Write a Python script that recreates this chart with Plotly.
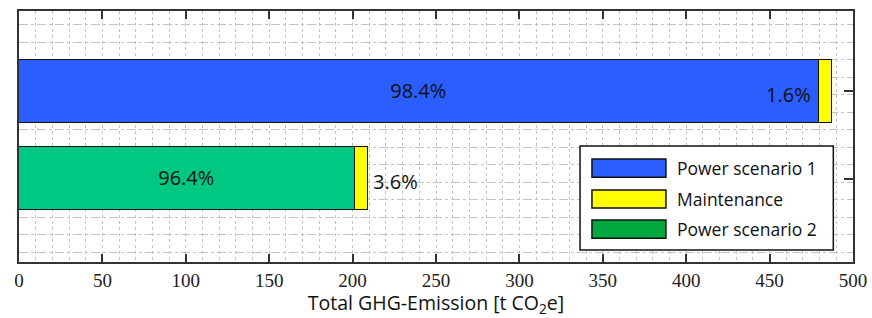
import plotly.graph_objects as go

# ---- data ----
scenarios = ["Scenario 2", "Scenario 1"]          # bottom -> top
power_names = ["Power scenario 2", "Power scenario 1"]
power_values = [201.5, 479.5]                      # t CO2e
maintenance_values = [7.5, 7.8]                    # t CO2e
x_ticks = [0, 50, 100, 150, 200, 250, 300, 350, 400, 450, 500]

power_colors = ["#00C882", "#2A5EFF"]
maint_color = "#FFFF00"
legend_labels = ["Power scenario 1", "Maintenance", "Power scenario 2"]
legend_colors = ["#2A5EFF", "#FFFF00", "#00A83E"]

ypos = list(range(len(scenarios)))
totals = [p + m for p, m in zip(power_values, maintenance_values)]
p_pct = [f"{100*p/t:.1f}%" for p, t in zip(power_values, totals)]
m_pct = [f"{100*m/t:.1f}%" for m, t in zip(maintenance_values, totals)]

PCT_FONT = dict(family="Open Sans, sans-serif", size=20, color="#111")

fig = go.Figure()
fig.add_trace(go.Bar(
    y=ypos, x=power_values, orientation="h", width=0.72,
    marker=dict(color=power_colors, line=dict(color="#111", width=1.5)),
    text=p_pct, textposition="inside", insidetextanchor="middle",
    textfont=PCT_FONT, showlegend=False, hoverinfo="skip",
))
fig.add_trace(go.Bar(
    y=ypos, x=maintenance_values, orientation="h", width=0.72,
    marker=dict(color=maint_color, line=dict(color="#111", width=1.5)),
    showlegend=False, hoverinfo="skip",
))

annotations = []
annotations.append(dict(x=power_values[1], y=ypos[1], text=m_pct[1], showarrow=False,
                        xanchor="right", xshift=-6, yshift=-3, font=PCT_FONT))
annotations.append(dict(x=totals[0], y=ypos[0], text=m_pct[0], showarrow=False,
                        xanchor="left", xshift=3, yshift=-3, font=PCT_FONT))

# ---- manual legend (wide swatches) ----
shapes = []
lx0, lx1, ly0, ly1 = 0.6727, 0.9764, 0.048, 0.462
shapes.append(dict(type="rect", xref="paper", yref="paper", x0=lx0, x1=lx1, y0=ly0, y1=ly1,
                   fillcolor="white", line=dict(color="#111", width=1.5), layer="above"))
row_y = [0.374, 0.251, 0.131]
sw_x0, sw_x1, sw_h = 0.6870, 0.7757, 0.036
for lab, col, yy in zip(legend_labels, legend_colors, row_y):
    shapes.append(dict(type="rect", xref="paper", yref="paper", x0=sw_x0, x1=sw_x1,
                       y0=yy - sw_h, y1=yy + sw_h, fillcolor=col,
                       line=dict(color="#111", width=1.5), layer="above"))
    annotations.append(dict(xref="paper", yref="paper", x=0.787, y=yy, text=lab,
                            showarrow=False, xanchor="left", yanchor="middle",
                            font=dict(family="Open Sans, sans-serif", size=17.5, color="#111")))

fig.update_layout(
    width=872, height=318,
    margin=dict(l=19, r=19, t=11, b=56),
    paper_bgcolor="white", plot_bgcolor="white",
    barmode="stack", bargap=0,
    shapes=shapes, annotations=annotations,
    xaxis=dict(
        range=[0, 500], tickvals=x_ticks, ticktext=[str(v) for v in x_ticks],
        ticks="inside", ticklen=8, tickwidth=1.5, tickcolor="#333",
        showline=True, linecolor="#333", linewidth=1.5, mirror="ticks",
        showgrid=True, gridcolor="#c4c4c4", griddash="dot", gridwidth=1,
        minor=dict(dtick=10, showgrid=True, gridcolor="#c4c4c4", griddash="dot", gridwidth=1),
        tickfont=dict(family="Liberation Serif, serif", size=19, color="#222"),
        title=dict(text="Total GHG-Emission [t CO<sub>2</sub>e]",
                   font=dict(family="Open Sans, sans-serif", size=19.5, color="#111"),
                   standoff=5),
        zeroline=False, automargin=False,
    ),
    yaxis=dict(
        range=[-0.95, 1.92], side="right",
        tickvals=ypos, showticklabels=False,
        ticks="inside", ticklen=9, tickwidth=1.5, tickcolor="#333",
        showline=True, linecolor="#333", linewidth=1.5, mirror=True,
        showgrid=False, zeroline=False, automargin=False,
        minor=dict(tick0=0.16, dtick=0.2, showgrid=True, gridcolor="#c4c4c4",
                   griddash="dashdot", gridwidth=1, ticks=""),
    ),
)

fig.write_html(
    "out.html",
    config={"displayModeBar": False},
    post_script="document.body.style.margin='0';document.body.style.overflow='hidden';",
)
